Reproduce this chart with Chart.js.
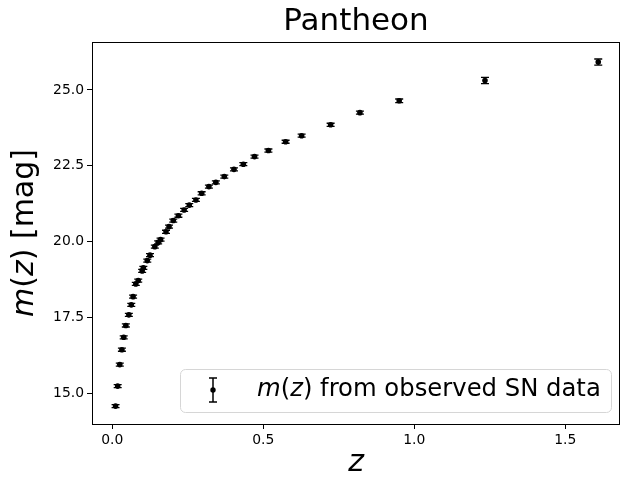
<!DOCTYPE html>
<html>
<head>
<meta charset="utf-8">
<script src="https://cdn.jsdelivr.net/npm/chart.js@4.4.0/dist/chart.umd.min.js"></script>
<style>
    html, body { margin: 0; padding: 0; background: #fff; }
    #wrap { width: 621px; height: 485px; }
</style>
</head>
<body>
<div id="wrap"><canvas id="chart"></canvas></div>
<script>
// binned Pantheon points
const zValues = [0.011, 0.018, 0.025, 0.032, 0.038, 0.045, 0.055, 0.063, 0.069, 0.078,
                 0.086, 0.099, 0.103, 0.116, 0.125, 0.141, 0.152, 0.160, 0.178, 0.188,
                 0.202, 0.219, 0.238, 0.255, 0.277, 0.296, 0.320, 0.343, 0.371, 0.403,
                 0.434, 0.471, 0.517, 0.574, 0.627, 0.723, 0.820, 0.950, 1.234, 1.609];
const mValues = [14.57, 15.23, 15.94, 16.43, 16.84, 17.23, 17.58, 17.91, 18.18, 18.60,
                 18.71, 19.03, 19.13, 19.37, 19.55, 19.83, 19.97, 20.06, 20.32, 20.49,
                 20.69, 20.85, 21.04, 21.20, 21.37, 21.59, 21.81, 21.95, 22.14, 22.38,
                 22.55, 22.80, 23.00, 23.29, 23.49, 23.85, 24.25, 24.64, 25.31, 25.92];
const mErrors = [0.05, 0.05, 0.05, 0.05, 0.05, 0.05, 0.05, 0.05, 0.05, 0.05,
                 0.05, 0.05, 0.05, 0.05, 0.05, 0.05, 0.05, 0.05, 0.05, 0.05,
                 0.05, 0.05, 0.05, 0.05, 0.05, 0.05, 0.05, 0.05, 0.05, 0.05,
                 0.05, 0.05, 0.05, 0.05, 0.05, 0.05, 0.05, 0.06, 0.10, 0.10];
const xTicks = [0.0, 0.5, 1.0, 1.5];
const yTicks = [15.0, 17.5, 20.0, 22.5, 25.0];

const points = zValues.map((z, i) => ({ x: z, y: mValues[i] }));

// draws pieces of text one after another, some of them italic
function drawMixed(ctx, parts, x, y, size, align) {
    const fonts = parts.map(p => (p.it ? 'italic ' : '') + size + 'px "DejaVu Sans"');
    let total = 0;
    const widths = parts.map((p, i) => {
        ctx.font = fonts[i];
        const w = ctx.measureText(p.t).width;
        total += w;
        return w;
    });
    let cx = align === 'center' ? x - total / 2 : x;
    ctx.textAlign = 'left';
    ctx.textBaseline = 'middle';
    parts.forEach((p, i) => {
        ctx.font = fonts[i];
        ctx.fillText(p.t, cx, y);
        cx += widths[i];
    });
}

const extras = {
    id: 'extras',
    afterDatasetsDraw(chart) {
        const ctx = chart.ctx;
        const xs = chart.scales.x;
        const ys = chart.scales.y;

        // error bars
        ctx.save();
        ctx.strokeStyle = '#000';
        ctx.lineWidth = 1.3;
        zValues.forEach((z, i) => {
            const px = xs.getPixelForValue(z);
            const top = ys.getPixelForValue(mValues[i] + mErrors[i]);
            const bot = ys.getPixelForValue(mValues[i] - mErrors[i]);
            ctx.beginPath();
            ctx.moveTo(px, top); ctx.lineTo(px, bot);
            ctx.moveTo(px - 4, top); ctx.lineTo(px + 4, top);
            ctx.moveTo(px - 4, bot); ctx.lineTo(px + 4, bot);
            ctx.stroke();
        });
        ctx.restore();
    },
    afterDraw(chart) {
        const ctx = chart.ctx;
        const area = chart.chartArea;

        // frame
        ctx.save();
        ctx.strokeStyle = '#000';
        ctx.lineWidth = 1;
        ctx.strokeRect(area.left + 0.5, area.top + 0.5, area.right - area.left - 1, area.bottom - area.top);
        ctx.restore();

        // y axis title
        ctx.save();
        ctx.fillStyle = '#000';
        ctx.translate(25, (area.top + area.bottom) / 2);
        ctx.rotate(-Math.PI / 2);
        drawMixed(ctx, [{ t: 'm', it: true }, { t: '(' }, { t: 'z', it: true }, { t: ') [mag]' }], 0, 0, 30, 'center');
        ctx.restore();

        // legend
        ctx.save();
        const bx = 180, by = 369, bw = 431, bh = 43, r = 5;
        ctx.beginPath();
        ctx.roundRect(bx + 0.5, by + 0.5, bw, bh, r);
        ctx.fillStyle = 'rgba(255,255,255,0.8)';
        ctx.fill();
        ctx.strokeStyle = '#d6d6d6';
        ctx.lineWidth = 1;
        ctx.stroke();
        const gx = 213, gy = 390;
        ctx.strokeStyle = '#000';
        ctx.lineWidth = 1.5;
        ctx.beginPath();
        ctx.moveTo(gx, gy - 12); ctx.lineTo(gx, gy + 12);
        ctx.moveTo(gx - 4, gy - 12); ctx.lineTo(gx + 4, gy - 12);
        ctx.moveTo(gx - 4, gy + 12); ctx.lineTo(gx + 4, gy + 12);
        ctx.stroke();
        ctx.fillStyle = '#000';
        ctx.beginPath();
        ctx.arc(gx, gy, 2.7, 0, Math.PI * 2);
        ctx.fill();
        drawMixed(ctx, [{ t: 'm', it: true }, { t: '(' }, { t: 'z', it: true }, { t: ') from observed SN data' }], 257, gy, 24.3, 'left');
        ctx.restore();
    }
};

new Chart(document.getElementById('chart'), {
    type: 'scatter',
    data: {
        datasets: [{
            label: 'm(z) from observed SN data',
            data: points,
            backgroundColor: '#000',
            borderWidth: 0,
            pointRadius: 2.8,
            pointHoverRadius: 2.8
        }]
    },
    options: {
        responsive: true,
        maintainAspectRatio: false,
        animation: false,
        events: [],
        layout: { autoPadding: false, padding: { left: 0, right: 1, top: 0, bottom: 0 } },
        plugins: {
            legend: { display: false },
            tooltip: { enabled: false },
            title: {
                display: true,
                text: 'Pantheon',
                fullSize: false,
                color: '#000',
                font: { family: 'DejaVu Sans', size: 31, weight: 'normal' },
                padding: { top: 3, bottom: 1.8 }
            }
        },
        scales: {
            x: {
                type: 'linear',
                min: -0.067,
                max: 1.681,
                afterBuildTicks: s => { s.ticks = xTicks.map(v => ({ value: v })); },
                afterFit: s => { s.height = 61; s.paddingLeft = 0; s.paddingRight = 0; },
                ticks: {
                    color: '#000',
                    font: { family: 'DejaVu Sans', size: 13.9 },
                    padding: 3,
                    maxRotation: 0,
                    callback: v => Number(v).toFixed(1)
                },
                grid: { display: true, drawOnChartArea: false, drawTicks: true, tickLength: 5, color: '#000' },
                border: { display: false },
                title: {
                    display: true,
                    text: 'z',
                    color: '#000',
                    font: { family: 'DejaVu Sans', size: 30, style: 'italic' },
                    padding: { top: 0, bottom: 4 }
                }
            },
            y: {
                type: 'linear',
                min: 13.98,
                max: 26.58,
                afterBuildTicks: s => { s.ticks = yTicks.map(v => ({ value: v })); },
                afterFit: s => { s.width = 92; s.paddingTop = 0; s.paddingBottom = 0; },
                ticks: {
                    color: '#000',
                    font: { family: 'DejaVu Sans', size: 13.9 },
                    padding: 3,
                    callback: v => Number(v).toFixed(1)
                },
                grid: { display: true, drawOnChartArea: false, drawTicks: true, tickLength: 5, color: '#000' },
                border: { display: false }
            }
        }
    },
    plugins: [extras]
});
</script>
</body>
</html>
